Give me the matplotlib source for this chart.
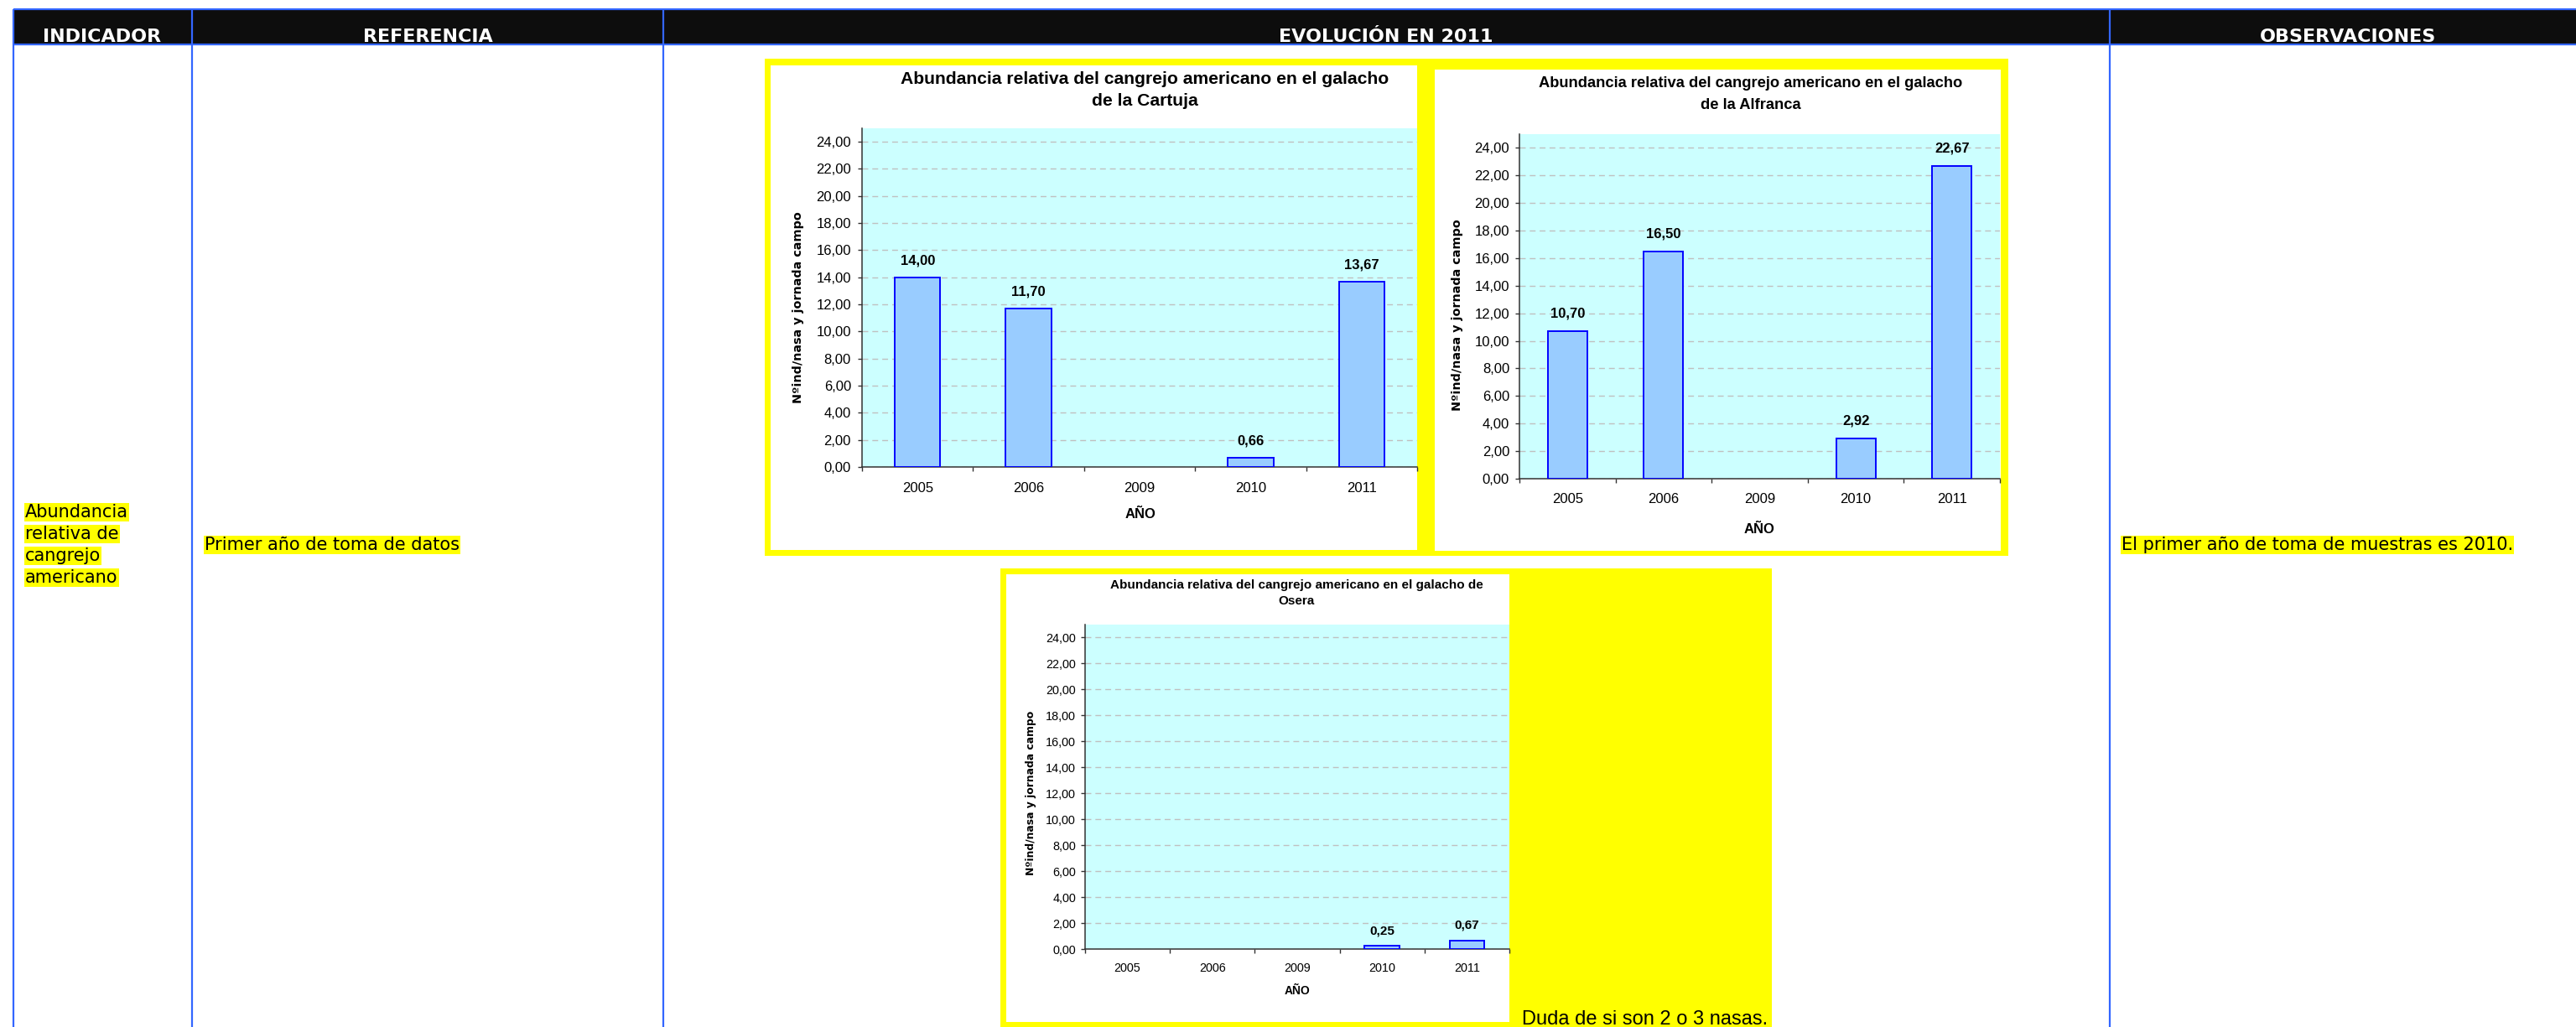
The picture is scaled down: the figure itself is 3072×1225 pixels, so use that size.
import numpy as np
import matplotlib
matplotlib.use('Agg')
import matplotlib.pyplot as plt
from matplotlib.patches import Rectangle
from matplotlib.ticker import NullFormatter

# ---------------- data ----------------
years = ['2005', '2006', '2009', '2010', '2011']
cartuja = [14.00, 11.70, np.nan, 0.66, 13.67]
alfranca = [10.70, 16.50, np.nan, 2.92, 22.67]
osera = [np.nan, np.nan, np.nan, 0.25, 0.67]
y_tick_values = [0, 2, 4, 6, 8, 10, 12, 14, 16, 18, 20, 22, 24]
y_tick_labels = ['0,00', '2,00', '4,00', '6,00', '8,00', '10,00', '12,00',
                 '14,00', '16,00', '18,00', '20,00', '22,00', '24,00']
headers = ['INDICADOR', 'REFERENCIA', 'EVOLUCIÓN EN 2011', 'OBSERVACIONES']
indicator_lines = ['Abundancia', 'relativa de', 'cangrejo', 'americano']
referencia = 'Primer año de toma de datos'
observaciones = 'El primer año de toma de muestras es 2010.'
note = 'Duda de si son 2 o 3 nasas.'
title_cartuja = ['Abundancia relativa del cangrejo americano en el galacho', 'de la Cartuja']
title_alfranca = ['Abundancia relativa del cangrejo americano en el galacho', 'de la Alfranca']
title_osera = ['Abundancia relativa del cangrejo americano en el galacho de', 'Osera']
ylabel = 'Nºind/nasa y jornada campo'
xlabel = 'AÑO'

# ---------------- styles ----------------
W, H = 3072, 1225
BLUE = '#3366FF'
HEAD = '#0D0D0D'
YEL = '#FFFF00'
CYAN = '#CCFFFF'
BARF = '#99CCFF'
BARE = '#0000FF'
AX = '#333333'
SANS = 'Liberation Sans'

fig = plt.figure(figsize=(W / 100, H / 100), dpi=100)
fig.patch.set_facecolor('white')
bg = fig.add_axes([0, 0, 1, 1])
bg.set_xlim(0, W)
bg.set_ylim(H, 0)
bg.axis('off')


def rect(x0, y0, x1, y1, color):
    bg.add_patch(Rectangle((x0, y0), x1 - x0, y1 - y0, facecolor=color,
                           edgecolor='none', lw=0))


# ---------------- table ----------------
rect(16, 11, W, 53, HEAD)
bg.plot([16, W], [11, 11], color=BLUE, lw=1.6, solid_capstyle='butt')
bg.plot([16, W], [53, 53], color=BLUE, lw=1.6, solid_capstyle='butt')
for xv in [16, 229, 791, 2516]:
    bg.plot([xv, xv], [11, H], color=BLUE, lw=1.6, solid_capstyle='butt')

header_x = [122, 510, 1653, 2800]
for hx, ht in zip(header_x, headers):
    bg.text(hx, 50, ht, ha='center', va='baseline', color='white',
            fontsize=16, fontweight='bold', family='DejaVu Sans')

hl = dict(boxstyle='square,pad=0.05', facecolor=YEL, edgecolor='none')
for i, line in enumerate(indicator_lines):
    bg.text(30, 611 + 26 * i, line, ha='left', va='center', fontsize=15,
            family='DejaVu Sans', color='black', bbox=hl)
bg.text(244, 650, referencia, ha='left', va='center', fontsize=15,
        family='DejaVu Sans', color='black', bbox=hl)
bg.text(2530, 650, observaciones, ha='left', va='center', fontsize=15,
        family='DejaVu Sans', color='black', bbox=hl)

# ---------------- chart frames ----------------
rect(912, 70, 2395, 663, YEL)
rect(919, 78, 1690, 656, 'white')
rect(1711, 83, 2386, 657, 'white')
rect(1193, 678, 2113, H, YEL)
rect(1200, 685, 1800, 1219, 'white')
bg.text(1815, 1222, note, ha='left', va='baseline', fontsize=17,
        family=SANS, color='black')


def fmt(v):
    return f'{v:.2f}'.replace('.', ',')


def draw_chart(box, values, titles, title_xy, title_fs, ylab_xy, ylab_fs,
               xlab_xy, xlab_fs, tick_fs, val_fs, val_off, xpad, ypad):
    x0, y0, x1, y1 = box
    ax = fig.add_axes([x0 / W, 1 - y1 / H, (x1 - x0) / W, (y1 - y0) / H])
    ax.set_facecolor(CYAN)
    x = np.arange(len(years))
    ax.bar(x, values, width=0.41, color=BARF, edgecolor=BARE, linewidth=1.4,
           zorder=3)
    ax.set_xlim(-0.5, len(years) - 0.5)
    ax.set_ylim(0, 25)
    ax.set_yticks(y_tick_values)
    ax.set_yticklabels(y_tick_labels, fontsize=tick_fs, family=SANS)
    ax.set_xticks(np.arange(-0.5, len(years), 1.0))
    ax.xaxis.set_major_formatter(NullFormatter())
    ax.set_xticks(x, minor=True)
    ax.set_xticklabels(years, minor=True, fontsize=tick_fs, family=SANS)
    ax.tick_params(axis='x', which='minor', length=0, pad=xpad)
    ax.tick_params(axis='x', which='major', length=3.6, width=1.0, color=AX)
    ax.tick_params(axis='y', length=3.6, width=1.0, color=AX, pad=ypad)
    ax.yaxis.grid(True, color='#C0C0C0', linestyle=(0, (5, 3.5)), lw=1.0)
    ax.set_axisbelow(True)
    for s in ['top', 'right']:
        ax.spines[s].set_visible(False)
    for s in ['left', 'bottom']:
        ax.spines[s].set_color(AX)
        ax.spines[s].set_linewidth(1.1)
    for i, v in enumerate(values):
        if not np.isnan(v):
            ax.annotate(fmt(v), (i, v), xytext=(0, val_off),
                        textcoords='offset points', ha='center', va='center',
                        fontsize=val_fs, fontweight='bold', family=SANS,
                        zorder=5)
    tx, ty1, ty2 = title_xy
    bg.text(tx, ty1, titles[0], ha='center', va='center', fontsize=title_fs,
            fontweight='bold', family=SANS)
    bg.text(tx, ty2, titles[1], ha='center', va='center', fontsize=title_fs,
            fontweight='bold', family=SANS)
    bg.text(ylab_xy[0], ylab_xy[1], ylabel, rotation=90, ha='center',
            va='center', fontsize=ylab_fs, fontweight='bold',
            family='DejaVu Sans')
    bg.text(xlab_xy[0], xlab_xy[1], xlabel, ha='center', va='center',
            fontsize=xlab_fs, fontweight='bold', family=SANS)
    return ax


draw_chart((1028, 153, 1690, 557), cartuja, title_cartuja, (1365, 95, 121),
           15.2, (952, 367), 10.4, (1360, 614), 12, 12, 12, 14.4, 13.2, 5.8)
draw_chart((1812, 160, 2385, 571), alfranca, title_alfranca, (2088, 100, 125),
           13.2, (1738, 376), 10.4, (2098, 631), 12, 12, 12, 15.0, 12.0, 5.0)
draw_chart((1294, 745, 1800, 1132), osera, title_osera, (1546, 698, 717),
           11, (1230, 946), 8.9, (1547, 1182), 10, 10.4, 11, 13.0, 11.3, 4.3)

fig.savefig('out.png', dpi=100, facecolor='white')
